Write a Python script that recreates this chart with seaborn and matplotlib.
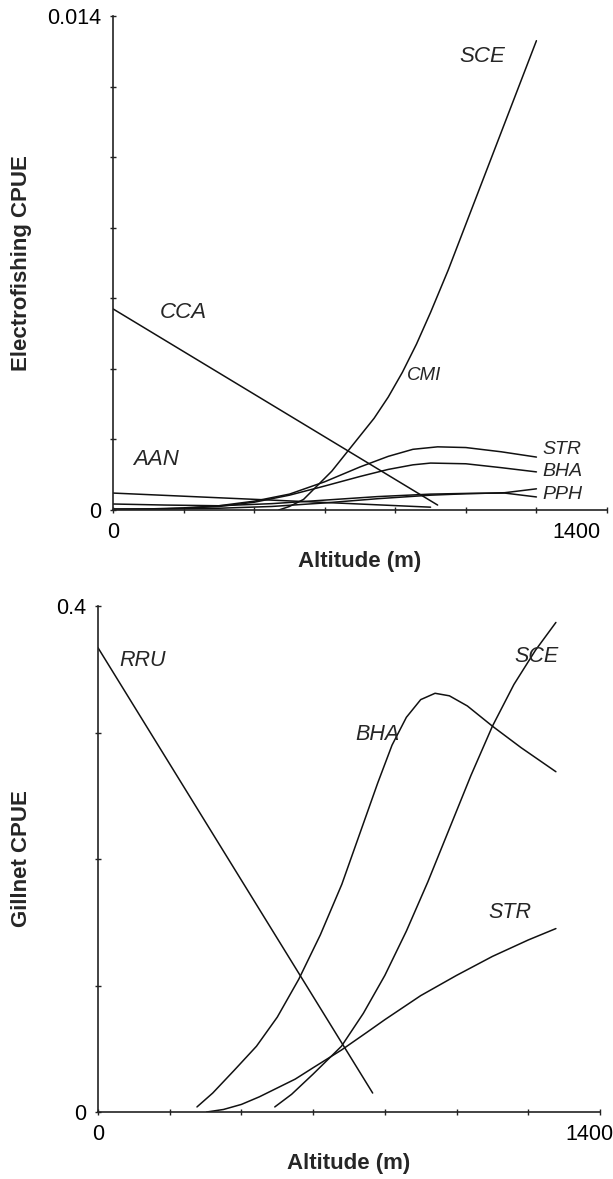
import numpy as np
import pandas as pd
import matplotlib
matplotlib.use("Agg")
import matplotlib.pyplot as plt
import matplotlib.transforms as mtransforms
import seaborn as sns

# ---------------- data (top panel: electrofishing) ----------------
cca_x = [0, 920]
cca_y = [0.0057, 0.00014]
aan_x = [0, 900]
aan_y = [0.00048, 0.00008]
sce1_x = [470, 500, 540, 580, 620, 660, 700, 740, 780, 820, 860, 900, 950, 1000, 1050, 1100, 1150, 1200]
sce1_y = [0.0, 0.0001, 0.0003, 0.0007, 0.0011, 0.0016, 0.0021, 0.0026, 0.0032, 0.0039, 0.0047,
          0.0056, 0.0068, 0.0081, 0.0094, 0.0107, 0.0120, 0.0133]
str1_x = [0, 100, 200, 300, 400, 500, 600, 700, 780, 850, 920, 1000, 1100, 1200]
str1_y = [0.00002, 0.00003, 0.00006, 0.00012, 0.00025, 0.00045, 0.0008, 0.00122, 0.00152,
          0.00172, 0.00179, 0.00177, 0.00165, 0.0015]
bha1_x = [0, 100, 200, 300, 400, 500, 600, 700, 780, 850, 900, 1000, 1100, 1200]
bha1_y = [0.00001, 0.00002, 0.00005, 0.0001, 0.00022, 0.00042, 0.00068, 0.00095, 0.00115,
          0.00128, 0.00133, 0.00131, 0.0012, 0.00108]
pph_x = [0, 150, 300, 450, 600, 750, 900, 1000, 1110, 1200]
pph_y = [0.00003, 0.00003, 0.00005, 0.0001, 0.0002, 0.00032, 0.00042, 0.00046, 0.00049, 0.0006]
cmi_x = [0, 150, 300, 450, 600, 750, 900, 1000, 1110, 1200]
cmi_y = [0.00017, 0.00014, 0.00012, 0.00018, 0.00028, 0.00038, 0.00045, 0.00047, 0.00048, 0.00037]

# ---------------- data (bottom panel: gillnet) ----------------
rru_x = [0, 766]
rru_y = [0.367, 0.015]
bha2_x = [276, 320, 380, 442, 500, 560, 620, 680, 730, 780, 820, 860, 900, 940, 980, 1030, 1100, 1180, 1277]
bha2_y = [0.004, 0.015, 0.033, 0.052, 0.075, 0.105, 0.14, 0.18, 0.22, 0.26, 0.29, 0.312, 0.326,
          0.331, 0.329, 0.321, 0.305, 0.288, 0.269]
sce2_x = [493, 540, 600, 679, 740, 800, 860, 920, 980, 1040, 1100, 1160, 1220, 1277]
sce2_y = [0.004, 0.014, 0.030, 0.052, 0.078, 0.108, 0.143, 0.182, 0.224, 0.266, 0.305, 0.338,
          0.365, 0.387]
str2_x = [303, 350, 400, 450, 500, 550, 600, 679, 750, 800, 900, 1000, 1100, 1200, 1277]
str2_y = [0.0, 0.002, 0.006, 0.012, 0.019, 0.026, 0.035, 0.049, 0.063, 0.073, 0.092, 0.108,
          0.123, 0.136, 0.145]

xticks = [0, 200, 400, 600, 800, 1000, 1200, 1400]
xticklabels = ["0", "", "", "", "", "", "", "1400"]
yticks1 = [0, 0.002, 0.004, 0.006, 0.008, 0.010, 0.012, 0.014]
yticklabels1 = ["0", "", "", "", "", "", "", "0.014"]
yticks2 = [0, 0.1, 0.2, 0.3, 0.4]
yticklabels2 = ["0", "", "", "", "0.4"]

sns.set_theme(style="ticks")
plt.rcParams["font.family"] = ["Liberation Sans", "DejaVu Sans"]

W, H = 613, 1179
fig = plt.figure(figsize=(W / 100, H / 100), dpi=100)

def px_axes(l, t, r, b):
    return fig.add_axes([l / W, 1 - b / H, (r - l) / W, (b - t) / H])

ax1 = px_axes(113, 16, 607, 510)
ax2 = px_axes(98, 606, 600, 1112)

def draw(ax, xs, ys):
    df = pd.DataFrame({"x": xs, "y": ys})
    sns.lineplot(data=df, x="x", y="y", ax=ax, color="#111111", lw=1.1, sort=False)

for xs, ys in [(cca_x, cca_y), (aan_x, aan_y), (sce1_x, sce1_y), (str1_x, str1_y),
               (bha1_x, bha1_y), (pph_x, pph_y), (cmi_x, cmi_y)]:
    draw(ax1, xs, ys)
for xs, ys in [(rru_x, rru_y), (bha2_x, bha2_y), (sce2_x, sce2_y), (str2_x, str2_y)]:
    draw(ax2, xs, ys)

def style(ax, ymax, yticks, yticklabels, xoff):
    ax.set_xlim(0, 1400)
    ax.set_ylim(0, ymax)
    ax.set_xticks(xticks)
    ax.set_xticklabels(xticklabels)
    ax.set_yticks(yticks)
    ax.set_yticklabels(yticklabels)
    ax.set_xlabel("")
    ax.set_ylabel("")
    for s in ["top", "right"]:
        ax.spines[s].set_visible(False)
    for s in ["left", "bottom"]:
        ax.spines[s].set_color("#222222")
        ax.spines[s].set_linewidth(1.2)
    ax.tick_params(direction="inout", length=5, width=1, color="#222222",
                   labelsize=15.5, labelcolor="black", pad=6)
    lab = ax.get_xticklabels()[-1]
    lab.set_transform(lab.get_transform() + mtransforms.ScaledTranslation(xoff / 100, 0, fig.dpi_scale_trans))

style(ax1, 0.014, yticks1, yticklabels1, -31)
style(ax2, 0.4, yticks2, yticklabels2, -11)

def ftext(x, y, s, size=15.5, ha="center", **kw):
    fig.text(x / W, 1 - y / H, s, ha=ha, va="center", fontsize=size, **kw)

# axis titles
ftext(22, 263, "Electrofishing CPUE", size=16, fontweight="bold", rotation=90)
ftext(360, 561, "Altitude (m)", size=16, fontweight="bold")
ftext(22, 859, "Gillnet CPUE", size=16, fontweight="bold", rotation=90)
ftext(349, 1163, "Altitude (m)", size=16, fontweight="bold")

# species labels, top panel
ftext(482, 56, "SCE", size=16, style="italic")
ftext(183, 313, "CCA", size=16, style="italic")
ftext(156, 460, "AAN", size=16, style="italic")
ftext(424, 376, "CMI", size=13.5, style="italic")
ftext(542, 450, "STR", size=14, ha="left", style="italic")
ftext(542, 472, "BHA", size=14, ha="left", style="italic")
ftext(542, 494, "PPH", size=14, ha="left", style="italic")

# species labels, bottom panel
ftext(143, 660, "RRU", size=15.5, style="italic")
ftext(537, 657, "SCE", size=15.5, style="italic")
ftext(377, 735, "BHA", size=15.5, style="italic")
ftext(510, 912, "STR", size=15.5, style="italic")

fig.savefig("out.png", dpi=100)
